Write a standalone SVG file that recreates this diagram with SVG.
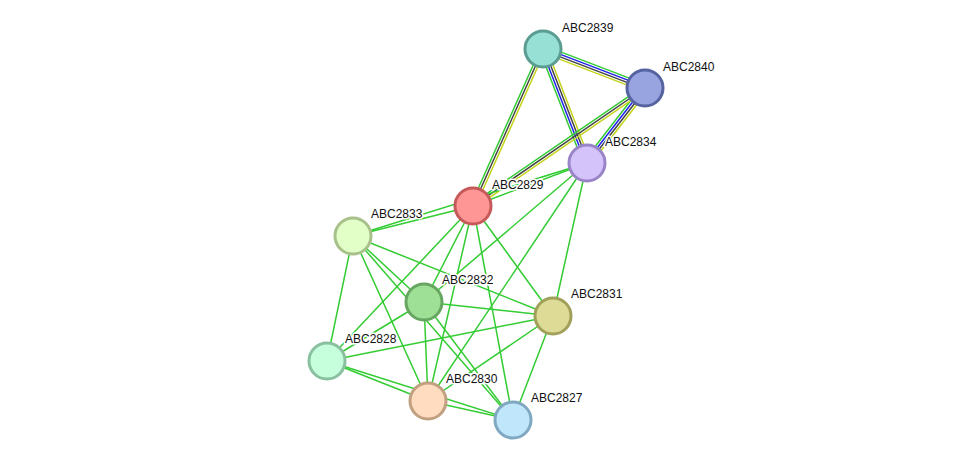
<svg xmlns="http://www.w3.org/2000/svg" width="976" height="465" viewBox="0 0 976 465">
<style>
.e line{stroke-width:1.5;fill:none}
.g{stroke:#33cc33}
.b{stroke:#2222ee}
.k{stroke:#444444}
.y{stroke:#c4d41a}
.n circle{stroke-width:3}
.n text{font-family:"Liberation Sans",Arial,sans-serif;font-size:12px;fill:#111;stroke:#fff;stroke-width:3;stroke-linejoin:round;paint-order:stroke fill}
</style>
<rect width="976" height="465" fill="#fff"/>
<g id="connectors" class="e">
<line class="g" x1="544.29" y1="45.64" x2="646.29" y2="84.64"/>
<line class="b" x1="543.43" y1="47.88" x2="645.43" y2="86.88"/>
<line class="k" x1="542.57" y1="50.12" x2="644.57" y2="89.12"/>
<line class="y" x1="541.71" y1="52.36" x2="643.71" y2="91.36"/>
<line class="g" x1="539.64" y1="50.30" x2="583.64" y2="164.30"/>
<line class="b" x1="541.88" y1="49.43" x2="585.88" y2="163.43"/>
<line class="k" x1="544.12" y1="48.57" x2="588.12" y2="162.57"/>
<line class="y" x1="546.36" y1="47.70" x2="590.36" y2="161.70"/>
<line class="g" x1="642.15" y1="85.80" x2="584.15" y2="160.80"/>
<line class="b" x1="644.05" y1="87.27" x2="586.05" y2="162.27"/>
<line class="k" x1="645.95" y1="88.73" x2="587.95" y2="163.73"/>
<line class="y" x1="647.85" y1="90.20" x2="589.85" y2="165.20"/>
<line class="g" x1="540.81" y1="48.02" x2="470.81" y2="205.02"/>
<line class="k" x1="543" y1="49" x2="473" y2="206"/>
<line class="y" x1="545.19" y1="49.98" x2="475.19" y2="206.98"/>
<line class="g" x1="643.64" y1="86.02" x2="471.64" y2="204.02"/>
<line class="k" x1="645" y1="88" x2="473" y2="206"/>
<line class="y" x1="646.36" y1="89.98" x2="474.36" y2="207.98"/>
<line class="g" x1="587" y1="163" x2="473" y2="206"/>
<line class="g" x1="587" y1="163" x2="353" y2="236"/>
<line class="g" x1="473" y1="206" x2="353" y2="236"/>
<line class="g" x1="473" y1="206" x2="424" y2="302"/>
<line class="g" x1="473" y1="206" x2="327" y2="361"/>
<line class="g" x1="473" y1="206" x2="428" y2="401"/>
<line class="g" x1="473" y1="206" x2="513" y2="420"/>
<line class="g" x1="473" y1="206" x2="553" y2="316"/>
<line class="g" x1="587" y1="163" x2="424" y2="302"/>
<line class="g" x1="587" y1="163" x2="428" y2="401"/>
<line class="g" x1="587" y1="163" x2="553" y2="316"/>
<line class="g" x1="353" y1="236" x2="327" y2="361"/>
<line class="g" x1="353" y1="236" x2="424" y2="302"/>
<line class="g" x1="353" y1="236" x2="428" y2="401"/>
<line class="g" x1="353" y1="236" x2="513" y2="420"/>
<line class="g" x1="353" y1="236" x2="553" y2="316"/>
<line class="g" x1="424" y1="302" x2="553" y2="316"/>
<line class="g" x1="424" y1="302" x2="327" y2="361"/>
<line class="g" x1="424" y1="302" x2="428" y2="401"/>
<line class="g" x1="424" y1="302" x2="513" y2="420"/>
<line class="g" x1="553" y1="316" x2="327" y2="361"/>
<line class="g" x1="553" y1="316" x2="428" y2="401"/>
<line class="g" x1="553" y1="316" x2="513" y2="420"/>
<line class="g" x1="327" y1="361" x2="428" y2="401"/>
<line class="g" x1="327" y1="361" x2="513" y2="420"/>
<line class="g" x1="428" y1="401" x2="513" y2="420"/>
</g>
<g id="ABC2839" class="n"><circle cx="543" cy="49" r="18" fill="#97e0d6" stroke="#5a9c92"/><text x="562" y="32">ABC2839</text></g>
<g id="ABC2840" class="n"><circle cx="645" cy="88" r="18" fill="#97a4e0" stroke="#5563a0"/><text x="663" y="71">ABC2840</text></g>
<g id="ABC2834" class="n"><circle cx="587" cy="163" r="18" fill="#d4c3fb" stroke="#9a84c8"/><text x="605" y="146">ABC2834</text></g>
<g id="ABC2829" class="n"><circle cx="473" cy="206" r="18" fill="#ff9696" stroke="#c65a5a"/><text x="492" y="189">ABC2829</text></g>
<g id="ABC2833" class="n"><circle cx="353" cy="236" r="18" fill="#e3ffc8" stroke="#a8c08a"/><text x="371" y="218">ABC2833</text></g>
<g id="ABC2832" class="n"><circle cx="424" cy="302" r="18" fill="#9ee096" stroke="#66a660"/><text x="442" y="284">ABC2832</text></g>
<g id="ABC2831" class="n"><circle cx="553" cy="316" r="18" fill="#dedb96" stroke="#a0a05a"/><text x="571" y="298">ABC2831</text></g>
<g id="ABC2828" class="n"><circle cx="327" cy="361" r="18" fill="#c6ffdc" stroke="#88c0a0"/><text x="345" y="343">ABC2828</text></g>
<g id="ABC2830" class="n"><circle cx="428" cy="401" r="18" fill="#ffdcc0" stroke="#c0a080"/><text x="446" y="383">ABC2830</text></g>
<g id="ABC2827" class="n"><circle cx="513" cy="420" r="18" fill="#c0e6fb" stroke="#80a8c0"/><text x="531" y="402">ABC2827</text></g>
</svg>
